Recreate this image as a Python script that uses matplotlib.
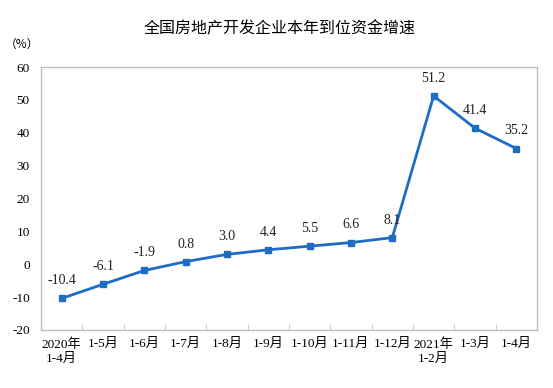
import matplotlib.pyplot as plt
import numpy as np

plt.rcParams['font.family'] = ['Liberation Serif', 'Noto Sans CJK SC']

categories = ["2020年\n1-4月", "1-5月", "1-6月", "1-7月", "1-8月", "1-9月",
              "1-10月", "1-11月", "1-12月", "2021年\n1-2月", "1-3月", "1-4月"]
growth = [-10.4, -6.1, -1.9, 0.8, 3.0, 4.4, 5.5, 6.6, 8.1, 51.2, 41.4, 35.2]
y_ticks = [-20, -10, 0, 10, 20, 30, 40, 50, 60]

BLUE = "#1f6cc4"
FRAME = "#bfbfbf"

fig = plt.figure(figsize=(5.53, 3.88), dpi=100)
ax = fig.add_axes([0.0741, 0.1495, 0.8969, 0.6778])

x = np.arange(len(categories))
ax.plot(x, growth, color=BLUE, lw=2, marker="s", ms=4, mec=BLUE, mfc=BLUE)
for xi, v in zip(x, growth):
    ax.annotate(f"{v:.1f}", (xi, v), xytext=(0, 8), textcoords="offset points",
                ha="center", va="bottom", fontsize=10, color="#222222")

ax.set_xlim(-0.5, len(categories) - 0.5)
ax.set_ylim(-20, 60)
ax.set_yticks(y_ticks)
ax.set_yticklabels([str(t) for t in y_ticks], fontsize=9.5)
ax.set_xticks(x)
ax.set_xticklabels(categories, fontsize=9.5, linespacing=1.25, va="top")
ax.tick_params(axis="x", length=0, pad=6)
ax.tick_params(axis="y", length=0, pad=8)
ax.set_xticks(np.arange(0.5, len(categories) - 0.5, 1), minor=True)
ax.tick_params(axis="x", which="minor", direction="in", length=4, color=FRAME)

for s in ax.spines.values():
    s.set_color(FRAME)
    s.set_linewidth(1)

fig.text(0.505, 0.925, "全国房地产开发企业本年到位资金增速", ha="center", va="center",
         fontsize=11.5, family=["Noto Sans CJK SC"])
fig.text(0.04, 0.885, "（%）", ha="center", va="center", fontsize=8.5,
         family=["Noto Sans CJK SC"])

fig.savefig("out.png", dpi=100)
